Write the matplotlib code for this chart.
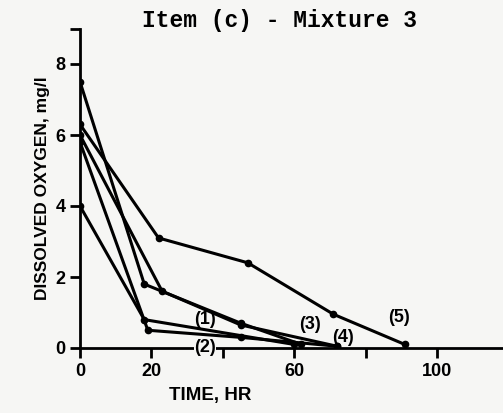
import matplotlib
matplotlib.use("Agg")
import matplotlib.pyplot as plt

# time (hr) and dissolved oxygen (mg/l) for each run
t1 = [0, 23, 45, 72]
do1 = [6.0, 1.6, 0.65, 0.05]
t2 = [0, 18, 60]
do2 = [4.0, 0.8, 0.1]
t3 = [0, 18, 45, 62]
do3 = [7.5, 1.8, 0.7, 0.1]
t4 = [0, 19, 45, 72]
do4 = [5.8, 0.5, 0.3, 0.05]
t5 = [0, 22, 47, 71, 91]
do5 = [6.3, 3.1, 2.4, 0.95, 0.1]

curve_labels = ["(1)", "(2)", "(3)", "(4)", "(5)"]
label_pos = [(35, 0.8), (35, 0.0), (64.5, 0.65), (73.7, 0.3), (89.5, 0.85)]

x_ticks = [0, 20, 40, 60, 80, 100]
x_ticklabels = ["0", "20", "", "60", "", "100"]
y_ticks = [0, 2, 4, 6, 8]

BG = "#f6f6f4"

fig = plt.figure(figsize=(5.03, 4.13), dpi=100, facecolor=BG)
ax = fig.add_axes([80 / 503, 65 / 413, 423 / 503, 319.5 / 413], facecolor=BG)

for t, d in [(t1, do1), (t2, do2), (t3, do3), (t4, do4), (t5, do5)]:
    ax.plot(t, d, color="black", linewidth=2.2, marker="o", markersize=4.5,
            solid_joinstyle="round")

for lab, (x, y) in zip(curve_labels, label_pos):
    # only the label sitting on the axis gets a background patch
    box = dict(facecolor=BG, edgecolor="none", pad=0.3) if y == 0 else None
    ax.text(x, y, lab, fontsize=13, fontweight="bold", ha="center",
            va="center", family="Liberation Sans", bbox=box, zorder=5)

ax.set_xlim(0, 118.5)
ax.set_ylim(0, 9)
ax.spines["top"].set_visible(False)
ax.spines["right"].set_visible(False)
for s in ("left", "bottom"):
    ax.spines[s].set_linewidth(2)

ax.set_xticks(x_ticks)
ax.set_xticklabels(x_ticklabels)
ax.set_yticks(y_ticks)
ax.set_yticks([9], minor=True)
ax.tick_params(which="both", direction="out", length=7, width=2,
               labelsize=13)
for lbl in ax.get_xticklabels() + ax.get_yticklabels():
    lbl.set_fontweight("bold")
    lbl.set_family("Liberation Sans")

ax.set_ylabel("DISSOLVED OXYGEN, mg/l", fontsize=12.5, fontweight="bold",
              family="Liberation Sans", labelpad=4)
ax.text(36.4, -1.1, "TIME, HR", fontsize=13.5, fontweight="bold",
        family="Liberation Sans", ha="center", va="top")

fig.text(279 / 503, 1 - 20 / 413, "Item (c) - Mixture 3", fontsize=16.5,
         family="Liberation Mono", fontweight="bold", ha="center",
         va="center")

fig.savefig("out.png", dpi=100, facecolor=BG)
